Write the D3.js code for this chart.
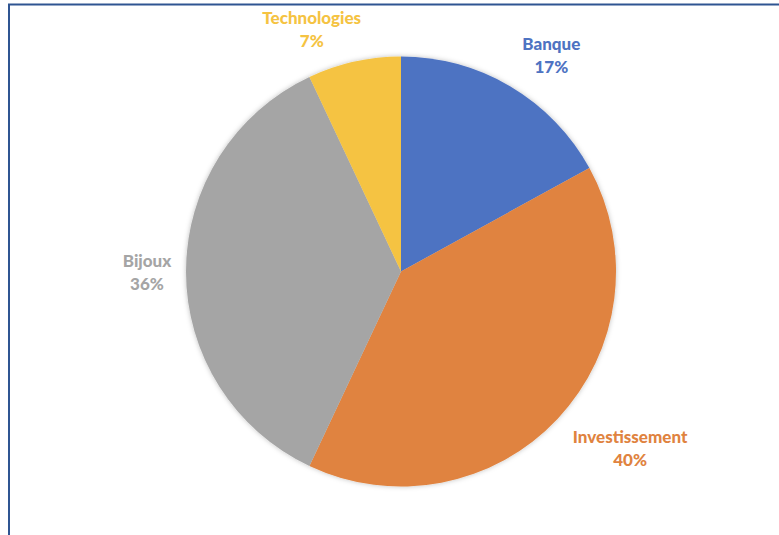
<!DOCTYPE html>
<html>
<head>
<meta charset="utf-8">
<script src="https://cdn.jsdelivr.net/npm/d3@7"></script>
<style>
  html, body { margin: 0; padding: 0; background: #fff; }
  svg { display: block; }
</style>
</head>
<body>
<div id="chart"></div>
<script>
// Data
const categories = ["Banque", "Investissement", "Bijoux", "Technologies"];
const shares = [17, 40, 36, 7];
const sliceColors = ["#4e73c2", "#e0833f", "#a5a5a5", "#f5c342"];

// Label nudges (layout only) relative to the label arc centroid
const labelNudge = [[19, 6], [41, 0], [4, 0], [-33, 9]];

const width = 779;
const height = 535;
const cx = 401;
const cy = 271.5;
const radius = 215;

const svg = d3.select("#chart")
    .append("svg")
    .attr("width", width)
    .attr("height", height);

// Soft shadow around the pie
const defs = svg.append("defs");
const filter = defs.append("filter")
    .attr("id", "shadow")
    .attr("x", "-20%").attr("y", "-20%")
    .attr("width", "140%").attr("height", "140%");
filter.append("feDropShadow")
    .attr("dx", 0).attr("dy", 0)
    .attr("stdDeviation", 2.5)
    .attr("flood-color", "#000")
    .attr("flood-opacity", 0.25);

// Frame: only the top and left edges are visible in the picture
svg.append("path")
    .attr("d", `M9,${height} V4.5 H${width}`)
    .attr("fill", "none")
    .attr("stroke", "#2f5592")
    .attr("stroke-width", 2);

const pie = d3.pie().sort(null).value((d) => d);
const arcs = pie(shares);

const arc = d3.arc().innerRadius(0).outerRadius(radius);
const labelArc = d3.arc().innerRadius(258).outerRadius(258);

const g = svg.append("g")
    .attr("transform", `translate(${cx},${cy})`);

g.append("g")
    .attr("filter", "url(#shadow)")
    .selectAll("path")
    .data(arcs)
    .join("path")
    .attr("d", arc)
    .attr("fill", (d, i) => sliceColors[i]);

const labels = g.selectAll(".label")
    .data(arcs)
    .join("text")
    .attr("class", "label")
    .attr("transform", (d, i) => {
        const [x, y] = labelArc.centroid(d);
        return `translate(${x + labelNudge[i][0]},${y + labelNudge[i][1]})`;
    })
    .attr("text-anchor", "middle")
    .attr("font-family", "Lato, 'Open Sans', sans-serif")
    .attr("font-weight", "900")
    .attr("font-size", 17)
    .attr("fill", (d, i) => sliceColors[i]);

labels.append("tspan")
    .attr("x", 0)
    .attr("dy", -5)
    .text((d, i) => categories[i]);

labels.append("tspan")
    .attr("x", 0)
    .attr("dy", 23)
    .text((d) => d.data + "%");
</script>
</body>
</html>
